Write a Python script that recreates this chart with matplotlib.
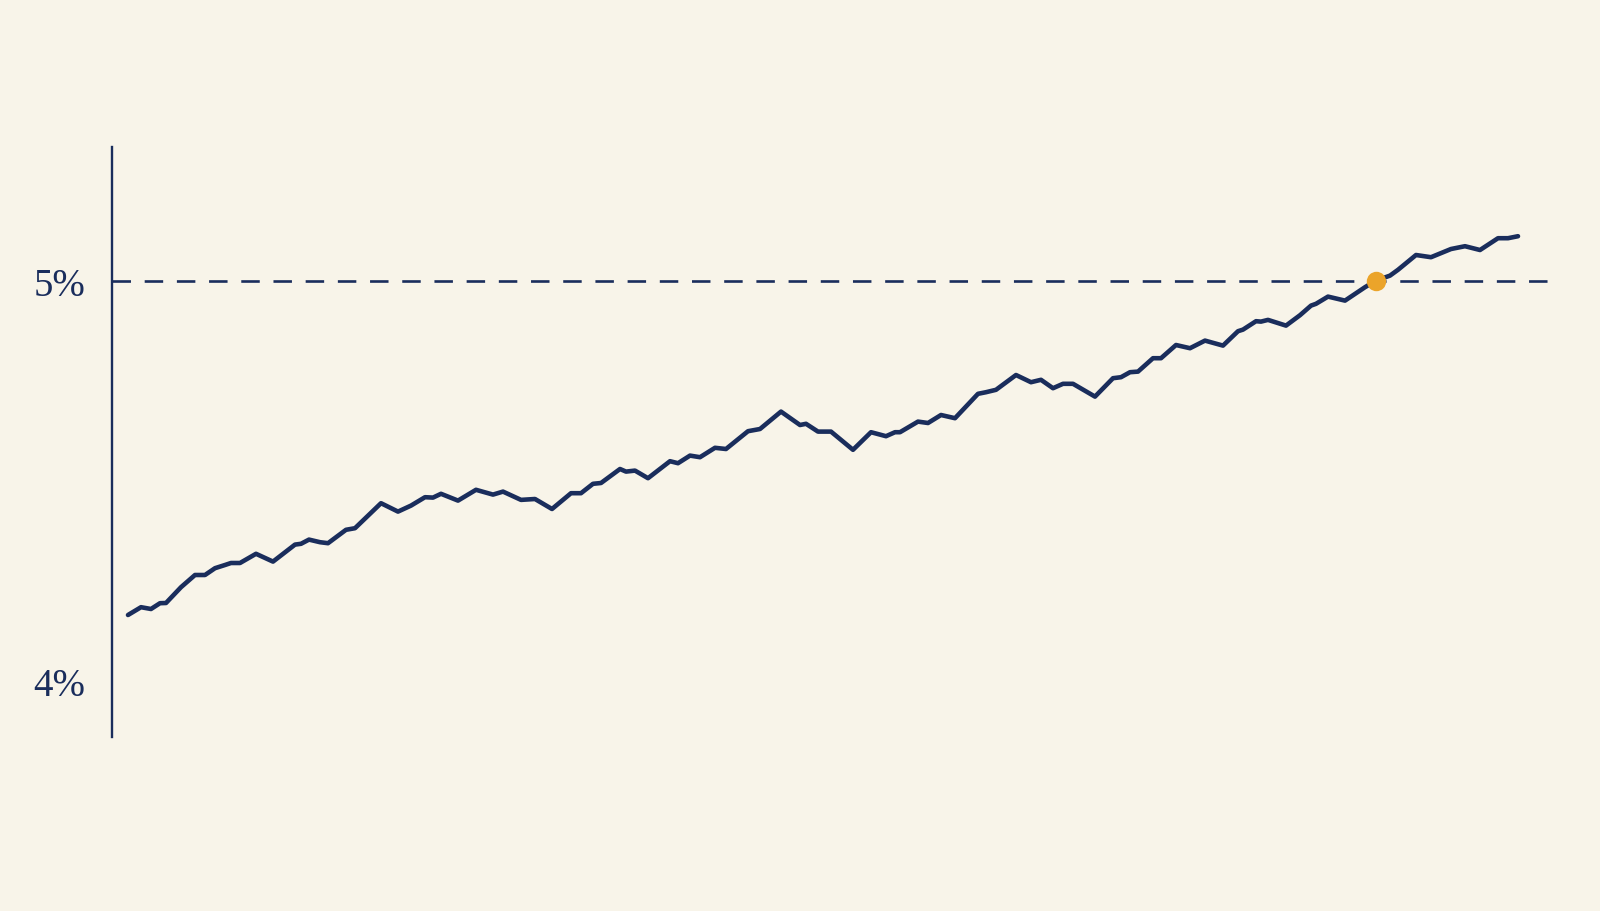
import matplotlib
matplotlib.use("Agg")
import matplotlib.pyplot as plt

# ---- data (x: time offset, arbitrary units; y: rate in %) ----
t = [0, 13, 23, 32, 38, 53, 67, 77, 87, 97, 103, 112, 128, 145, 167, 173, 181, 192,
     200, 218, 227, 253, 270, 283, 297, 305, 313, 330, 348, 365, 375,
     393, 407, 424, 443, 453, 465, 473, 492, 498, 507, 520, 542, 550, 562, 572,
     587, 598, 620, 632, 653, 672, 678, 690, 703, 725, 743, 758, 767, 772,
     790, 800, 813, 827, 850, 858, 868, 888, 903, 913, 925, 935, 945, 967,
     985, 993, 1002, 1010, 1025, 1033, 1048, 1062, 1077, 1095, 1110, 1115, 1128,
     1133, 1140, 1158, 1172, 1183, 1188, 1200, 1217, 1237, 1248, 1262, 1270,
     1288, 1303, 1323, 1337, 1352, 1370, 1380, 1390]
rate = [4.164, 4.1835, 4.179, 4.1935, 4.194, 4.2335, 4.264, 4.264, 4.281, 4.289, 4.294, 4.294,
        4.317, 4.2975, 4.340, 4.342, 4.3525, 4.346,
        4.3435, 4.377, 4.381, 4.4435, 4.4225, 4.4375, 4.4585, 4.4575, 4.467, 4.450, 4.477,
        4.465, 4.4725,
        4.4518, 4.454, 4.429, 4.4685, 4.4685, 4.492, 4.494, 4.529, 4.5225, 4.525, 4.506,
        4.5485, 4.5435, 4.5625, 4.5585,
        4.582, 4.579, 4.6235, 4.629, 4.6725, 4.639, 4.642, 4.6225, 4.6225, 4.577, 4.621,
        4.611, 4.621, 4.621,
        4.6475, 4.644, 4.664, 4.656, 4.717, 4.721, 4.727, 4.764, 4.746, 4.752, 4.731,
        4.742, 4.742, 4.710,
        4.756, 4.7585, 4.771, 4.7725, 4.806, 4.806, 4.839, 4.831, 4.850, 4.8375, 4.8735,
        4.8775, 4.8985, 4.8975, 4.9018, 4.8875, 4.9135,
        4.9375, 4.942, 4.960, 4.950, 4.9835, 5.000, 5.0125, 5.027, 5.064, 5.0585,
        5.079, 5.086, 5.0765, 5.106, 5.106, 5.111]
target = 5.0
cross_t = 1248
cross_rate = 5.0
tick_values = [4.0, 5.0]
tick_labels = ["4%", "5%"]

BG = "#F8F4E9"
NAVY = "#1A2D5C"
ORANGE = "#EBA42A"

fig = plt.figure(figsize=(16, 9.12), dpi=100, facecolor=BG)
ax = fig.add_axes([0.07, 0.1908, 0.8975, 0.6469])
ax.set_facecolor(BG)

ax.plot(t, rate, color=NAVY, lw=3.3, solid_joinstyle="round", solid_capstyle="round", zorder=3)
dl = ax.axhline(target, color=NAVY, lw=1.9, zorder=2)
dl.set_dashes([7.0, 5.2])
ax.plot([cross_t], [cross_rate], "o", color=ORANGE, markersize=14, markeredgewidth=0, zorder=4)

ax.set_xlim(-16, 1420)
ax.set_ylim(3.859, 5.334)

for s in ["top", "right", "bottom"]:
    ax.spines[s].set_visible(False)
ax.spines["left"].set_color(NAVY)
ax.spines["left"].set_linewidth(1.7)

ax.set_xticks([])
ax.set_yticks(tick_values)
ax.set_yticklabels(tick_labels, family=["Liberation Serif", "DejaVu Serif"], fontsize=28, color=NAVY)
ax.tick_params(axis="y", length=0, pad=19)

fig.savefig("out.png", dpi=100, facecolor=BG)
